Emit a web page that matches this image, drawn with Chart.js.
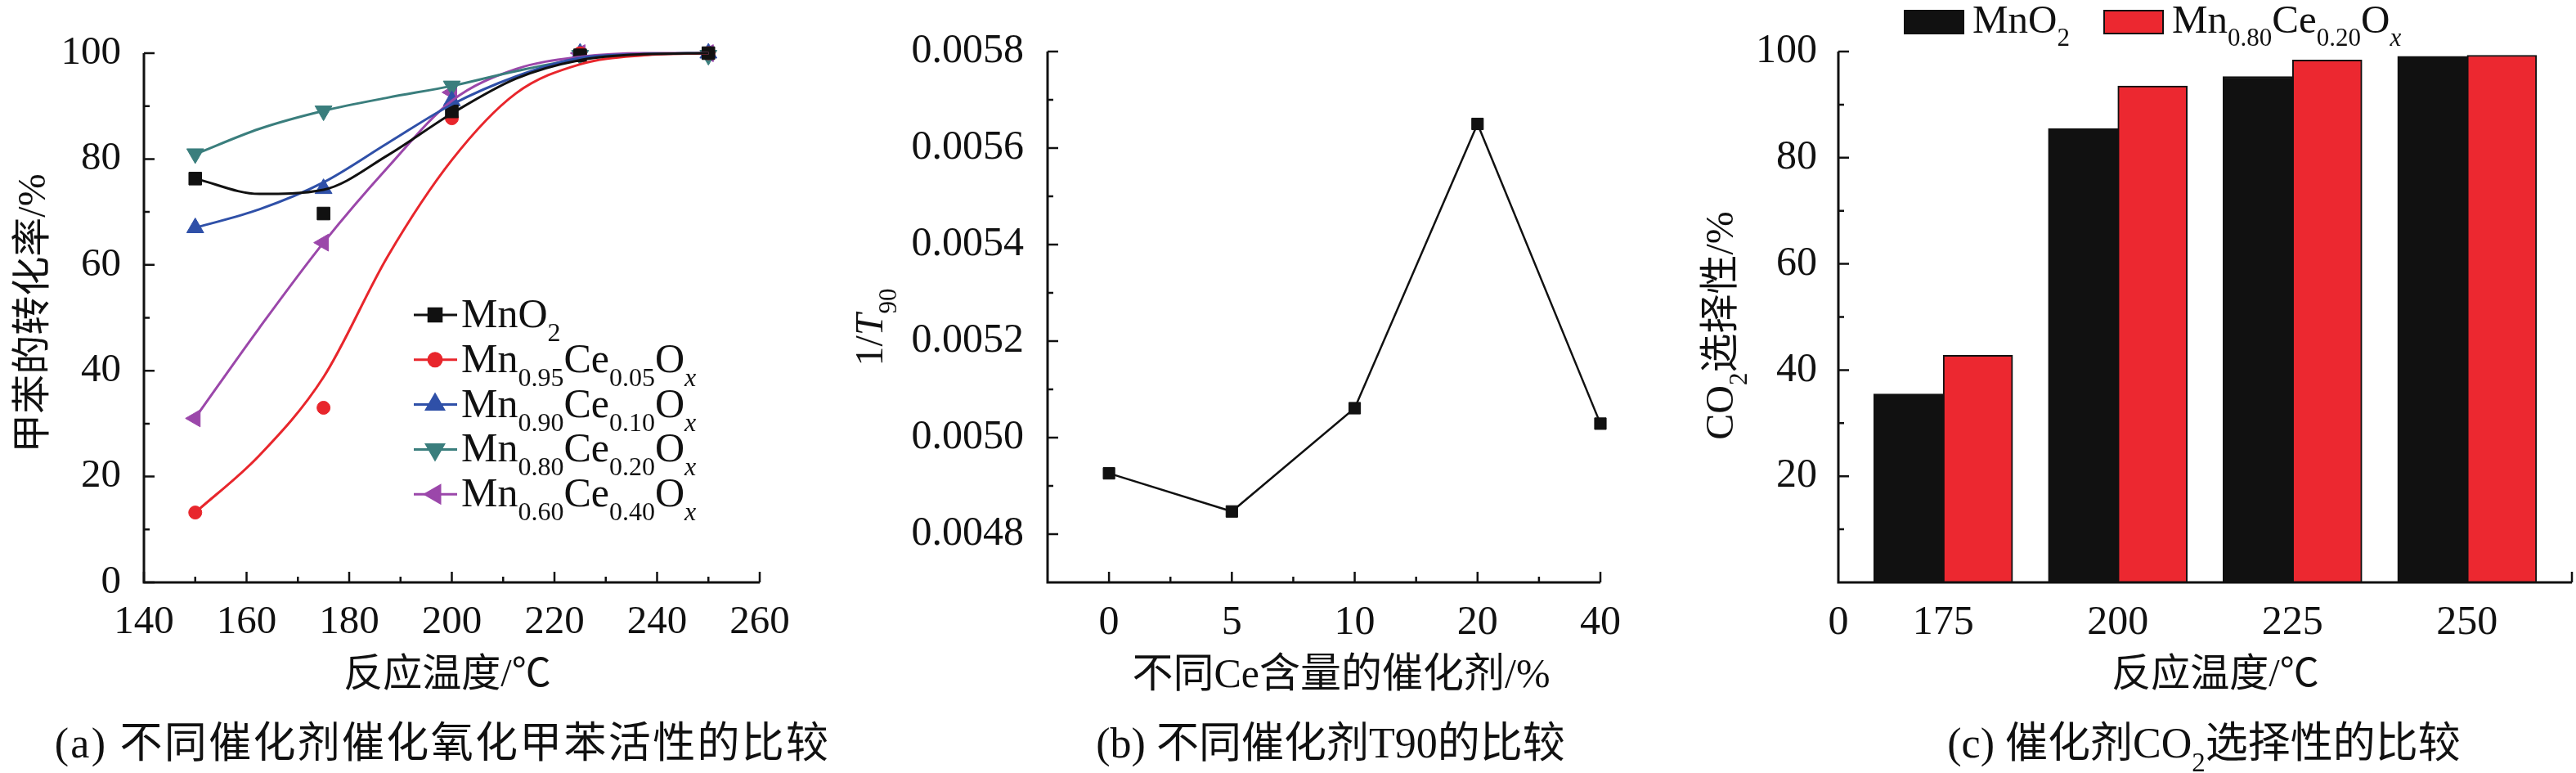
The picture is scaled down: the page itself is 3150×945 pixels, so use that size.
<!DOCTYPE html>
<html>
<head>
<meta charset="utf-8">
<script src="https://cdn.jsdelivr.net/npm/chart.js@4.4.1/dist/chart.umd.min.js"></script>
<style>
html, body { margin: 0; padding: 0; background: #fff; width: 3150px; height: 945px; overflow: hidden; }
canvas { position: absolute; top: 0; }
</style>
</head>
<body>
<canvas id="ca" width="1050" height="945" style="left:0px"></canvas>
<canvas id="cb" width="1030" height="945" style="left:1010px"></canvas>
<canvas id="cc" width="1110" height="945" style="left:2040px"></canvas>
<script>
// ---- (a) toluene conversion vs temperature ----
const tempA = [150, 175, 200, 225, 250];
const mno2Pts = [76.3, 69.7, 89.0, 99.6, 100];
const ce05Pts = [13.2, 33.0, 87.7, 100, 100];
const ce10Pts = [67.0, 74.4, 91.0, 100, 100];
const ce20Pts = [81.0, 89.1, 93.8, 99.6, 99.6];
const ce40Pts = [31.0, 64.2, 92.6, 100, 100];
// fitted curves
const fitX = [150, 162.5, 175, 187.5, 200, 212.5, 225, 237.5, 250];
const mno2Fit = [76.3, 73.4, 74.2, 80.7, 88.6, 95.2, 98.7, 99.8, 100];
const ce05Fit = [13.2, 24.0, 38.8, 61.6, 79.8, 92.4, 97.9, 99.6, 100];
const ce10Fit = [67.0, 70.5, 75.6, 83.0, 90.3, 95.6, 99.1, 99.8, 100];
const ce20Fit = [80.9, 85.7, 89.1, 91.6, 93.8, 96.6, 98.9, 99.8, 100];
const ce40Fit = [31.1, 48.1, 64.2, 78.4, 91.0, 97.0, 99.3, 100, 100];
const xTicksA = [140, 160, 180, 200, 220, 240, 260];
const yTicksA = [0, 20, 40, 60, 80, 100];

// ---- (b) 1/T90 vs Ce content ----
const ceCats = ['0', '5', '10', '20', '40'];
const invT90 = [0.004926, 0.004847, 0.005061, 0.005650, 0.005029];
const yTicksB = [0.0048, 0.0050, 0.0052, 0.0054, 0.0056, 0.0058];

// ---- (c) CO2 selectivity ----
const tempC = ['175', '200', '225', '250'];
const selMnO2 = [35.5, 85.5, 95.3, 99.1];
const selCe20 = [42.8, 93.5, 98.4, 99.3];
const yTicksC = [20, 40, 60, 80, 100];

// legend names as [text, style] pieces: n normal, s subscript, i italic
const namesA = [
  [['MnO', 'n'], ['2', 's']],
  [['Mn', 'n'], ['0.95', 's'], ['Ce', 'n'], ['0.05', 's'], ['O', 'n'], ['x', 'si']],
  [['Mn', 'n'], ['0.90', 's'], ['Ce', 'n'], ['0.10', 's'], ['O', 'n'], ['x', 'si']],
  [['Mn', 'n'], ['0.80', 's'], ['Ce', 'n'], ['0.20', 's'], ['O', 'n'], ['x', 'si']],
  [['Mn', 'n'], ['0.60', 's'], ['Ce', 'n'], ['0.40', 's'], ['O', 'n'], ['x', 'si']]
];
const namesC = [namesA[0], namesA[3]];

const FAM = '"Liberation Serif", "Noto Sans CJK SC", serif';
const INK = '#111111';
const colA = ['#111111', '#e8262c', '#2f50a8', '#3a7e7d', '#9b47aa'];
const markA = [
  { pointStyle: 'rect', radius: 11, rotation: 0 },
  { pointStyle: 'circle', radius: 8, rotation: 0 },
  { pointStyle: 'triangle', radius: 12, rotation: 0 },
  { pointStyle: 'triangle', radius: 12, rotation: 180 },
  { pointStyle: 'triangle', radius: 12, rotation: 270 }
];
const colC = ['#111111', '#ec2830'];

function midpoints(arr) {
  const out = [];
  for (let i = 1; i < arr.length; i++) out.push((arr[i - 1] + arr[i]) / 2);
  return out;
}

function fontOf(style, size) {
  return (style.includes('i') ? 'italic ' : '') + size + 'px ' + FAM;
}

// draws text pieces centred (or left aligned) on x,y; y is the visual middle
function richText(ctx, segs, x, y, size, align, rot, spacing) {
  const subSize = Math.round(size * 0.64);
  ctx.save();
  ctx.letterSpacing = (spacing || 0) + 'px';
  const widths = segs.map(s => {
    ctx.font = fontOf(s[1], s[1].includes('s') ? subSize : size);
    return ctx.measureText(s[0]).width;
  });
  const total = widths.reduce((a, b) => a + b, 0);
  ctx.translate(x, y);
  if (rot) ctx.rotate(rot);
  ctx.fillStyle = INK;
  ctx.textAlign = 'left';
  ctx.textBaseline = 'alphabetic';
  let cx = align === 'left' ? 0 : -total / 2;
  const base = size * 0.36;
  segs.forEach((s, i) => {
    const sub = s[1].includes('s');
    ctx.font = fontOf(s[1], sub ? subSize : size);
    ctx.fillText(s[0], cx, base + (sub ? size * 0.34 : 0));
    cx += widths[i];
  });
  ctx.restore();
}

// per canvas decoration: axes, inward ticks, titles, captions, legends
const deco = {
  ca: {
    xMajor: xTicksA, xMinor: midpoints(xTicksA), yMajor: yTicksA, yMinor: midpoints(yTicksA),
    yTitle: { segs: [['甲苯的转化率/%', 'n']], x: 38, y: 383, size: 48 },
    xTitle: { segs: [['反应温度/℃', 'n']], x: 547, y: 822, size: 48 },
    caption: { segs: [['(a) 不同催化剂催化氧化甲苯活性的比较', 'n']], x: 541, y: 907, size: 52, spacing: 2.3 },
    legend: 'lines'
  },
  cb: {
    xMajor: ceCats.map((c, i) => i), xMinor: midpoints(ceCats.map((c, i) => i)),
    yMajor: yTicksB, yMinor: midpoints(yTicksB),
    yTitle: { segs: [['1/', 'n'], ['T', 'i'], ['90', 's']], x: 52, y: 400, size: 48 },
    xTitle: { segs: [['不同Ce含量的催化剂/%', 'n']], x: 630, y: 822, size: 50 },
    caption: { segs: [['(b) 不同催化剂T90的比较', 'n']], x: 617, y: 907, size: 52, spacing: 0 }
  },
  cc: {
    xMajor: [], xMinor: [], yMajor: yTicksC, yMinor: midpoints([0].concat(yTicksC)), endTick: true,
    yTitle: { segs: [['CO', 'n'], ['2', 's'], ['选择性/%', 'n']], x: 62, y: 398, size: 48 },
    xTitle: { segs: [['反应温度/℃', 'n']], x: 669, y: 822, size: 48 },
    caption: { segs: [['(c) 催化剂CO', 'n'], ['2', 's'], ['选择性的比较', 'n']], x: 655, y: 907, size: 52, spacing: 0 },
    legend: 'boxes'
  }
};

const decorPlugin = {
  id: 'decor',
  afterDatasetsDraw(chart) {
    const d = deco[chart.canvas.id];
    const ctx = chart.ctx, a = chart.chartArea;
    const xs = chart.scales.x, ys = chart.scales.y;
    ctx.save();
    ctx.strokeStyle = INK;
    ctx.lineWidth = 3;
    ctx.beginPath();
    ctx.moveTo(a.left, a.top);
    ctx.lineTo(a.left, a.bottom);
    ctx.lineTo(a.right, a.bottom);
    ctx.stroke();
    ctx.lineWidth = 2.5;
    ctx.beginPath();
    d.yMajor.forEach(v => { const p = ys.getPixelForValue(v); ctx.moveTo(a.left, p); ctx.lineTo(a.left + 13, p); });
    d.yMinor.forEach(v => { const p = ys.getPixelForValue(v); ctx.moveTo(a.left, p); ctx.lineTo(a.left + 7, p); });
    d.xMajor.forEach(v => { const p = xs.getPixelForValue(v); ctx.moveTo(p, a.bottom); ctx.lineTo(p, a.bottom - 13); });
    d.xMinor.forEach(v => { const p = xs.getPixelForValue(v); ctx.moveTo(p, a.bottom); ctx.lineTo(p, a.bottom - 7); });
    if (d.endTick) { ctx.moveTo(a.right, a.bottom); ctx.lineTo(a.right, a.bottom - 13); }
    ctx.stroke();
    ctx.restore();
  },
  afterDraw(chart) {
    const d = deco[chart.canvas.id];
    const ctx = chart.ctx;
    richText(ctx, d.yTitle.segs, d.yTitle.x, d.yTitle.y, d.yTitle.size, 'center', -Math.PI / 2);
    richText(ctx, d.xTitle.segs, d.xTitle.x, d.xTitle.y, d.xTitle.size, 'center');
    richText(ctx, d.caption.segs, d.caption.x, d.caption.y, d.caption.size, 'center', 0, d.caption.spacing);
    if (d.legend === 'lines') {
      namesA.forEach((segs, i) => {
        const y = 385 + i * 54.8;
        ctx.save();
        ctx.strokeStyle = colA[i];
        ctx.fillStyle = colA[i];
        ctx.lineWidth = 3;
        ctx.beginPath();
        ctx.moveTo(506, y);
        ctx.lineTo(559, y);
        ctx.stroke();
        Chart.helpers.drawPoint(ctx, { pointStyle: markA[i].pointStyle, radius: markA[i].radius, rotation: markA[i].rotation, borderWidth: 1 }, 532, y);
        ctx.restore();
        richText(ctx, segs, 564, y - 3, 50, 'left');
      });
    }
    if (d.legend === 'boxes') {
      const boxX = [289, 533];
      namesC.forEach((segs, i) => {
        ctx.save();
        ctx.fillStyle = colC[i];
        ctx.strokeStyle = INK;
        ctx.lineWidth = 2;
        ctx.fillRect(boxX[i], 13, 72, 28);
        ctx.strokeRect(boxX[i], 13, 72, 28);
        ctx.restore();
        richText(ctx, segs, boxX[i] + 83, 22, 49, 'left');
      });
    }
  }
};

function tickFont(size) {
  return { family: FAM, size: size };
}

function baseOptions(padTop, padRight, yWidth, yPad, xPad) {
  return {
    responsive: false,
    animation: false,
    devicePixelRatio: 1,
    layout: { padding: { top: padTop, right: padRight, left: 0, bottom: 0 } },
    plugins: { legend: { display: false }, tooltip: { enabled: false } },
    scales: {
      x: {
        type: 'linear',
        offset: false,
        grid: { display: false },
        border: { display: false },
        ticks: { color: INK, padding: xPad, maxRotation: 0, autoSkip: false },
        afterFit: s => { s.height = 233; }
      },
      y: {
        type: 'linear',
        grid: { display: false },
        border: { display: false },
        ticks: { color: INK, padding: yPad, autoSkip: false },
        afterFit: s => { s.width = yWidth; }
      }
    }
  };
}

// ---- chart (a) ----
const fitsA = [mno2Fit, ce05Fit, ce10Fit, ce20Fit, ce40Fit];
const ptsA = [mno2Pts, ce05Pts, ce10Pts, ce20Pts, ce40Pts];
const dsA = [];
fitsA.forEach((f, i) => {
  dsA.push({
    data: fitX.map((x, j) => ({ x: x, y: f[j] })),
    borderColor: colA[i], borderWidth: 3, pointRadius: 0,
    cubicInterpolationMode: 'monotone', fill: false, clip: false
  });
});
ptsA.forEach((p, i) => {
  dsA.push({
    data: tempA.map((x, j) => ({ x: x, y: p[j] })),
    showLine: false, clip: false,
    pointStyle: markA[i].pointStyle, pointRadius: markA[i].radius, pointRotation: markA[i].rotation,
    pointBackgroundColor: colA[i], pointBorderColor: colA[i], pointBorderWidth: 1
  });
});
const optA = baseOptions(65, 121, 176, 20, 12);
Object.assign(optA.scales.x, { min: 140, max: 260 });
optA.scales.x.ticks.font = tickFont(49);
optA.scales.x.afterBuildTicks = s => { s.ticks = xTicksA.map(v => ({ value: v })); };
Object.assign(optA.scales.y, { min: 0, max: 100 });
optA.scales.y.ticks.font = tickFont(49);
optA.scales.y.afterBuildTicks = s => { s.ticks = yTicksA.map(v => ({ value: v })); };
new Chart(document.getElementById('ca'), { type: 'line', data: { datasets: dsA }, options: optA, plugins: [decorPlugin] });

// ---- chart (b) ----
const optB = baseOptions(63, 83, 271, 21, 12);
Object.assign(optB.scales.x, { min: -0.5, max: ceCats.length - 1 });
optB.scales.x.ticks.font = tickFont(50);
optB.scales.x.afterBuildTicks = s => { s.ticks = ceCats.map((c, i) => ({ value: i })); };
optB.scales.x.ticks.callback = (v, i) => ceCats[i];
Object.assign(optB.scales.y, { min: 0.0047, max: 0.0058 });
optB.scales.y.ticks.font = tickFont(50);
optB.scales.y.afterBuildTicks = s => { s.ticks = yTicksB.map(v => ({ value: v })); };
optB.scales.y.ticks.callback = v => v.toFixed(4);
new Chart(document.getElementById('cb'), {
  type: 'line',
  data: {
    datasets: [{
      data: ceCats.map((c, i) => ({ x: i, y: invT90[i] })),
      borderColor: INK, borderWidth: 2.5, tension: 0, clip: false,
      pointStyle: 'rect', pointRadius: 10, pointBackgroundColor: INK, pointBorderColor: INK, pointBorderWidth: 1
    }]
  },
  options: optB,
  plugins: [decorPlugin]
});

// ---- chart (c) ----
const optC = baseOptions(63, 5, 208, 18, 12);
Object.assign(optC.scales.x, { min: -0.6, max: 3.6 });
optC.scales.x.ticks.font = tickFont(50);
optC.scales.x.afterBuildTicks = s => { s.ticks = [{ value: s.min }].concat(tempC.map((t, i) => ({ value: i }))); };
optC.scales.x.ticks.callback = (v, i) => (i === 0 ? '0' : tempC[i - 1]);
Object.assign(optC.scales.y, { min: 0, max: 100 });
optC.scales.y.ticks.font = tickFont(50);
optC.scales.y.afterBuildTicks = s => { s.ticks = yTicksC.map(v => ({ value: v })); };
new Chart(document.getElementById('cc'), {
  type: 'bar',
  data: {
    datasets: [
      { data: tempC.map((t, i) => ({ x: i, y: selMnO2[i] })), backgroundColor: colC[0], borderColor: INK, borderWidth: 2, barThickness: 85 },
      { data: tempC.map((t, i) => ({ x: i, y: selCe20[i] })), backgroundColor: colC[1], borderColor: INK, borderWidth: 2, barThickness: 85 }
    ]
  },
  options: optC,
  plugins: [decorPlugin]
});
</script>
</body>
</html>
